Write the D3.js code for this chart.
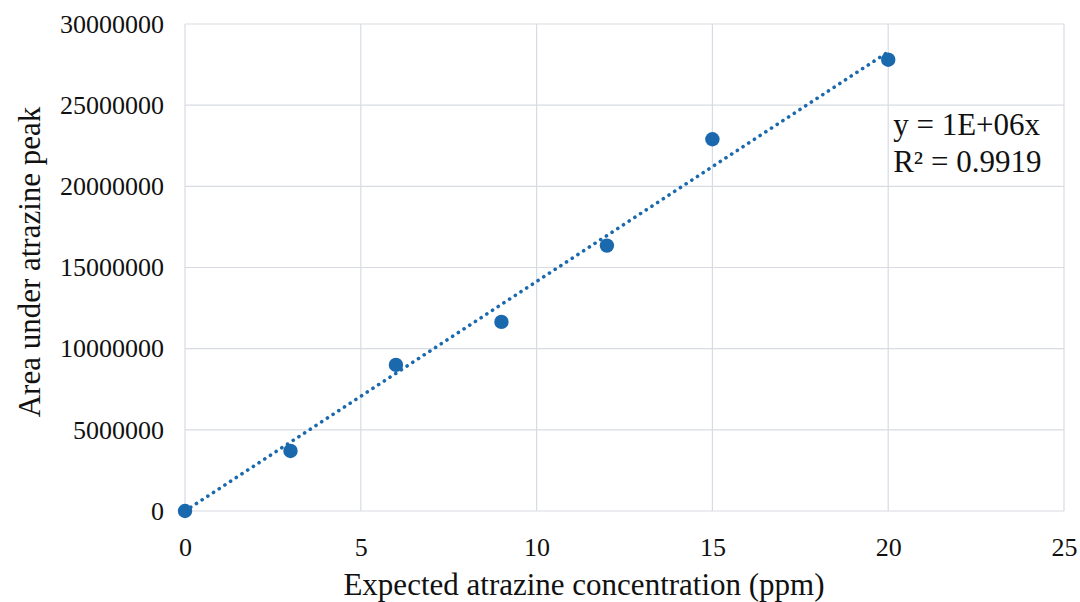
<!DOCTYPE html>
<html>
<head>
<meta charset="utf-8">
<script src="https://cdn.jsdelivr.net/npm/d3@7"></script>
<style>
  body { margin: 0; background: #fff; }
  text { font-family: "Liberation Serif", "Times New Roman", serif; fill: #111; }
</style>
</head>
<body>
<div id="chart"></div>
<script>
// Calibration points
const concentration = [0, 3, 6, 9, 12, 15, 20];
const peakArea = [0, 3700000, 9000000, 11650000, 16350000, 22900000, 27800000];
const xTicks = [0, 5, 10, 15, 20, 25];
const yTicks = [0, 5000000, 10000000, 15000000, 20000000, 25000000, 30000000];
const equationLines = ["y = 1E+06x", "R\u00b2 = 0.9919"];

const W = 1080, H = 602;
const margin = { top: 24, right: 16, bottom: 91, left: 185 };
const width = W - margin.left - margin.right;
const height = H - margin.top - margin.bottom;
const blue = "#1b69ad";

const svg = d3.select("#chart").append("svg")
    .attr("width", W)
    .attr("height", H);

const g = svg.append("g")
    .attr("transform", `translate(${margin.left},${margin.top})`);

const x = d3.scaleLinear().domain([0, 25]).range([0, width]);
const y = d3.scaleLinear().domain([0, 30000000]).range([height, 0]);

// gridlines
g.append("g")
    .selectAll("line.h")
    .data(yTicks).enter()
    .append("line")
    .attr("x1", 0).attr("x2", width)
    .attr("y1", d => y(d)).attr("y2", d => y(d))
    .attr("stroke", "#d8dbe4")
    .attr("stroke-width", 1.2);

g.append("g")
    .selectAll("line.v")
    .data(xTicks).enter()
    .append("line")
    .attr("y1", 0).attr("y2", height)
    .attr("x1", d => x(d)).attr("x2", d => x(d))
    .attr("stroke", "#d8dbe4")
    .attr("stroke-width", 1.2);

// axes (labels only, Excel style)
const xAxis = g.append("g")
    .attr("transform", `translate(0,${height})`)
    .call(d3.axisBottom(x).tickValues(xTicks).tickSize(0).tickPadding(27).tickFormat(d3.format("d")));
const yAxis = g.append("g")
    .call(d3.axisLeft(y).tickValues(yTicks).tickSize(0).tickPadding(21).tickFormat(d3.format("d")));
[xAxis, yAxis].forEach(a => {
    a.select(".domain").remove();
    a.selectAll("text")
        .style("font-family", "'Liberation Serif', serif")
        .style("font-size", "26px")
        .attr("fill", "#111");
});

// linear trendline through origin (least squares)
const slope = d3.sum(concentration, (c, i) => c * peakArea[i]) / d3.sum(concentration, c => c * c);
const xMax = d3.max(concentration);
g.append("line")
    .attr("x1", x(0)).attr("y1", y(0))
    .attr("x2", x(xMax)).attr("y2", y(slope * xMax))
    .attr("stroke", blue)
    .attr("stroke-width", 3.6)
    .attr("stroke-linecap", "round")
    .attr("stroke-dasharray", "0.1 6.7");

// points
g.selectAll("circle")
    .data(concentration).enter()
    .append("circle")
    .attr("cx", d => x(d))
    .attr("cy", (d, i) => y(peakArea[i]))
    .attr("r", 7.2)
    .attr("fill", blue);

// equation label
svg.append("g")
    .selectAll("text")
    .data(equationLines).enter()
    .append("text")
    .attr("x", margin.left + x(20) + 5)
    .attr("y", (d, i) => 135 + i * 37)
    .style("font-size", "31px")
    .text(d => d);

// axis titles
svg.append("text")
    .attr("x", 584)
    .attr("y", 595)
    .attr("text-anchor", "middle")
    .style("font-size", "31px")
    .text("Expected atrazine concentration (ppm)");

svg.append("text")
    .attr("transform", `translate(40,262) rotate(-90)`)
    .attr("text-anchor", "middle")
    .style("font-size", "31px")
    .text("Area under atrazine peak");
</script>
</body>
</html>
